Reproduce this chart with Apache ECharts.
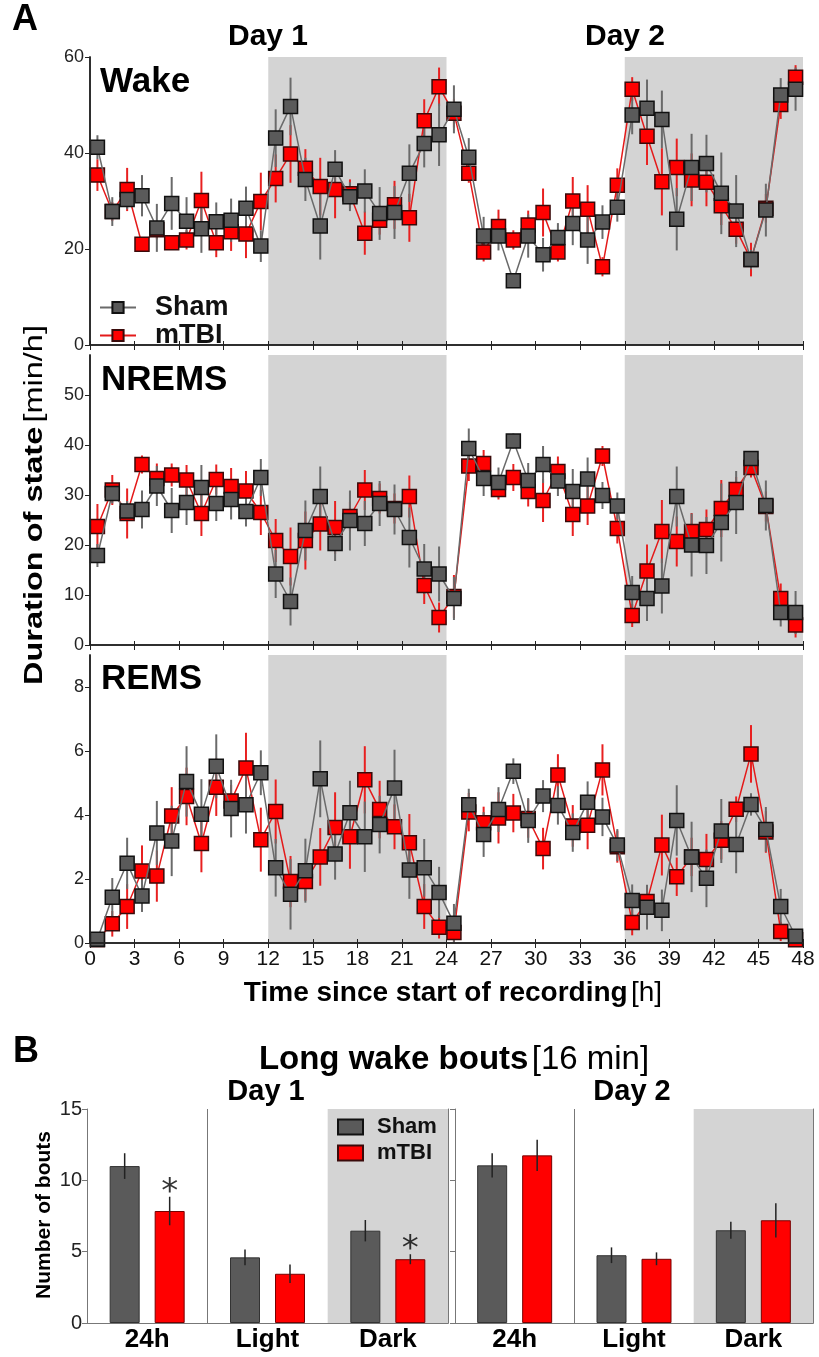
<!DOCTYPE html>
<html>
<head>
<meta charset="utf-8">
<script src="https://cdn.jsdelivr.net/npm/echarts@6/dist/echarts.min.js"></script>
<style>html,body{margin:0;background:#fff}#main{width:819px;height:1357px}</style>
</head>
<body>
<div id="main"></div>
<script>
// ---- panel A data (hour midpoints, mean and SEM per hour) ----
var hours = [0.5,1.5,2.5,3.5,4.5,5.5,6.5,7.5,8.5,9.5,10.5,11.5,12.5,13.5,14.5,15.5,16.5,17.5,18.5,19.5,20.5,21.5,22.5,23.5,
             24.5,25.5,26.5,27.5,28.5,29.5,30.5,31.5,32.5,33.5,34.5,35.5,36.5,37.5,38.5,39.5,40.5,41.5,42.5,43.5,44.5,45.5,46.5,47.5];

var wakeSham = [41.2,27.8,30.3,31.1,24.4,29.5,25.8,24.2,25.7,26.0,28.5,20.6,43.1,49.7,34.5,24.8,36.6,30.9,32.1,27.4,27.6,35.8,42.0,43.8,
                49.1,39.1,22.7,22.7,13.4,22.7,18.8,22.4,25.3,21.9,25.6,28.7,47.9,49.3,47.0,26.2,37.0,37.8,31.6,27.9,17.8,28.1,52.1,53.3];
var wakeShamErr = [2.5,3,2,4.3,5,5.5,5,5,4,4.5,4.5,3.3,6,6,4.5,7,4,3,4.5,5.5,5.5,6,5,6.5,
                   5,4,4,3,1,4.5,3.5,3,4.5,5,3.5,3,4,6,6,6.5,7,6,8.5,7.5,2,5.5,3.5,4.5];
var wakeTbi = [35.4,27.8,32.4,21.0,24.0,21.3,21.9,30.1,21.3,23.6,23.1,29.9,34.7,39.8,36.8,33.0,32.4,31.5,23.3,26.0,29.2,26.5,46.7,53.8,
               48.3,35.8,19.4,24.7,21.9,25.0,27.6,19.4,30.0,28.3,16.3,33.3,53.3,43.5,34.0,37.0,34.4,33.9,29.0,24.1,17.8,28.5,50.1,55.8];
var wakeTbiErr = [3.3,2,4.5,1,2,1,2,6,3,4,5,6,5,6,4,6,6,3,4.5,3,5,5,4.5,4,
                  3,2,2,3.5,2,3,5,2,5,5,2,3.5,2.5,6,7,6,5.5,5,4,3,3.5,3,3,2.5];

var nremSham = [17.9,30.3,26.8,27.1,31.8,26.9,28.5,31.5,28.3,29.1,26.7,33.5,14.2,8.7,22.9,29.7,20.3,24.9,24.3,28.3,27.1,21.5,15.2,14.2,
                9.3,39.3,33.3,32.5,40.8,32.9,36.1,32.8,30.7,33.2,29.9,27.8,10.5,9.3,11.8,29.7,20.0,19.9,24.5,28.5,37.3,27.9,6.5,6.5];
var nremShamErr = [2.3,2,2,3.8,4,4.5,4.5,4.5,3.5,4,3,3.7,4.8,4.8,6,6,3.5,6,4.5,4.5,5,6,5,5.5,
                   4.3,4,3.5,3,1.5,3.5,3.7,3,4.5,4.3,2.7,2.7,3.3,4.5,5.5,6,6.3,5.7,7.8,6.3,1.3,5,2.8,4.3];
var nremTbi = [23.7,31.0,26.3,36.1,33.3,34.0,33.0,26.3,33.1,31.7,30.8,26.5,20.9,17.7,20.9,24.2,23.5,25.7,31.0,29.3,27.3,29.7,11.9,5.5,
               9.7,35.8,36.3,31.1,33.5,30.7,28.9,34.7,26.1,27.8,37.8,23.3,5.9,14.8,22.7,20.7,22.7,23.1,27.3,31.1,35.5,27.7,9.3,4.0];
var nremTbiErr = [4.5,3,5,1.8,3,2.3,3,4.5,3,3.7,4,4.5,4.3,5.8,5.8,5.3,5.3,3,4,3,3,4.2,3.7,3,
                  4.3,3,2.7,2,2.7,3,4.3,3,4.3,3.8,2,3,2.3,5.3,6.3,5,3.7,4,5.7,2.5,2,3,3,2.5];

var remSham = [0.12,1.43,2.49,1.47,3.44,3.19,5.05,4.02,5.52,4.20,4.32,5.32,2.35,1.52,2.26,5.13,2.78,4.07,3.32,3.70,4.84,2.28,2.35,1.58,
               0.62,4.32,3.39,4.17,5.37,3.83,4.59,4.30,3.45,4.40,3.94,3.06,1.33,1.12,1.02,3.83,2.69,2.02,3.50,3.08,4.33,3.55,1.14,0.21];
var remShamErr = [0.1,0.6,0.8,0.5,1.0,1.1,1.1,1.1,1.0,0.9,0.9,0.7,0.9,1.1,1.0,1.2,0.8,1.0,1.1,0.9,1.2,0.9,0.9,0.8,
                  0.6,0.5,0.7,0.7,0.4,0.7,0.5,0.6,0.6,0.65,0.6,0.5,0.5,0.7,0.65,1.1,1.1,0.9,1.0,0.9,0.35,0.7,0.55,0.2];
var remTbi = [0.1,0.60,1.14,2.25,2.09,3.97,4.58,3.11,4.87,4.44,5.47,3.23,4.11,1.92,1.92,2.69,3.61,3.32,5.10,4.17,3.63,3.13,1.14,0.49,
              0.33,4.09,3.76,3.91,4.06,3.89,2.95,5.25,3.66,3.68,5.41,3.01,0.64,1.30,3.06,2.07,2.69,2.61,3.21,4.18,5.91,3.47,0.36,0.1];
var remTbiErr = [0.05,0.4,0.7,0.8,0.8,0.9,0.9,0.9,0.9,0.5,1.1,1.0,1.0,0.8,0.6,0.9,1.1,1.0,1.05,0.9,0.7,0.9,0.7,0.35,
                 0.3,0.6,0.5,0.8,0.6,0.6,0.65,0.65,0.65,0.75,0.8,0.5,0.4,0.5,0.95,0.6,0.6,0.8,0.6,0.4,0.9,0.65,0.3,0.1];

var darkPhases = [[12, 24], [36, 48]];

// ---- panel B data ----
var cats = ['24h', 'Light', 'Dark'];
var d1Sham = [11.0, 4.6, 6.47], d1ShamErr = [0.9, 0.55, 0.75];
var d1Tbi = [7.85, 3.45, 4.47], d1TbiErr = [1.0, 0.65, 0.35];
var d2Sham = [11.05, 4.75, 6.5], d2ShamErr = [0.85, 0.55, 0.6];
var d2Tbi = [11.75, 4.5, 7.2], d2TbiErr = [1.1, 0.45, 1.2];
var d1Sig = ['*', '', '*'];
var d2Sig = ['', '', ''];

var F = 'Liberation Sans, Arial, sans-serif';
var FN = 'Liberation Sans Narrow, Arial Narrow, sans-serif';
var GREY = '#5a5a5a', RED = '#ff0000';
var NONE = 'rgba(0,0,0,0)';

var chart = echarts.init(document.getElementById('main'));

function pts(vals) { return vals.map(function (v, i) { return [hours[i], v]; }); }
function errPts(vals, errs) { return vals.map(function (v, i) { return [hours[i], v, errs[i]]; }); }

function errBar(color, width, offset) {
    return function (params, api) {
        var x = api.value(0), v = api.value(1), e = api.value(2);
        var lo = api.coord([x, Math.max(0, v - e)]);
        var hi = api.coord([x, v + e]);
        return {
            type: 'line',
            shape: { x1: lo[0] + offset, y1: lo[1], x2: hi[0] + offset, y2: hi[1] },
            style: { stroke: color, lineWidth: width }
        };
    };
}

var panels = [
    { sham: wakeSham, shamErr: wakeShamErr, tbi: wakeTbi, tbiErr: wakeTbiErr, max: 60, interval: 20 },
    { sham: nremSham, shamErr: nremShamErr, tbi: nremTbi, tbiErr: nremTbiErr, max: 58, interval: 10 },
    { sham: remSham, shamErr: remShamErr, tbi: remTbi, tbiErr: remTbiErr, max: 9, interval: 2 }
];

var grid = [
    { left: 90, right: 16, top: 57, height: 288 },
    { left: 90, right: 16, top: 355, height: 290 },
    { left: 90, right: 16, top: 655, height: 288 },
    { left: 87, top: 1109, width: 361, height: 214 },
    { left: 455, top: 1109, width: 358, height: 214 }
];

var xAxis = [], yAxis = [], series = [];
var frameA = { color: '#222', width: 1.5 };
var frameB = { color: '#777', width: 1 };

panels.forEach(function (p, k) {
    xAxis.push({
        type: 'value', gridIndex: k, min: 0, max: 48, interval: 3, z: 5,
        axisLine: { lineStyle: frameA },
        axisTick: { show: true, length: 5, lineStyle: { color: '#222' } },
        axisLabel: { show: k === 2, fontFamily: FN, fontSize: 21, color: '#111', margin: 6 },
        splitLine: { show: false }
    });
    yAxis.push({
        type: 'value', gridIndex: k, min: 0, max: p.max, interval: p.interval, z: 5,
        axisLine: { show: true, lineStyle: frameA },
        axisTick: { show: true, length: 5, lineStyle: { color: '#222' } },
        axisLabel: { fontFamily: F, fontSize: 18, color: '#222', margin: 6, showMaxLabel: k === 0 },
        splitLine: { show: false }
    });
});
panels.forEach(function (p, k) {
    xAxis.push({
        type: 'value', gridIndex: k, position: 'top', min: 0, max: 48, interval: 3, z: 5,
        axisLine: { lineStyle: frameA },
        axisTick: { show: true, length: 4, lineStyle: { color: '#222' } },
        axisLabel: { show: false }, splitLine: { show: false }
    });
    yAxis.push({
        type: 'value', gridIndex: k, position: 'right', min: 0, max: p.max, z: 5,
        axisLine: { show: true, lineStyle: frameA },
        axisTick: { show: false }, axisLabel: { show: false }, splitLine: { show: false }
    });
});

panels.forEach(function (p, k) {
    series.push({
        type: 'custom', xAxisIndex: k, yAxisIndex: k, z: 2,
        renderItem: errBar('#e82020', 2, 0), data: errPts(p.tbi, p.tbiErr),
        markArea: {
            silent: true, itemStyle: { color: '#d4d4d4' },
            data: darkPhases.map(function (d) { return [{ xAxis: d[0] }, { xAxis: d[1] }]; })
        }
    });
    series.push({
        type: 'custom', xAxisIndex: k, yAxisIndex: k, z: 2,
        renderItem: errBar('#6a6a6a', 2, 0), data: errPts(p.sham, p.shamErr)
    });
    series.push({
        name: 'mTBI', type: 'line', xAxisIndex: k, yAxisIndex: k, z: 3,
        data: pts(p.tbi), symbol: 'rect', symbolSize: 14,
        lineStyle: { color: '#e41a1a', width: 1.5 },
        itemStyle: { color: RED, borderColor: '#3a0a0a', borderWidth: 1.5 }
    });
    series.push({
        name: 'Sham', type: 'line', xAxisIndex: k, yAxisIndex: k, z: 4,
        data: pts(p.sham), symbol: 'rect', symbolSize: 14,
        lineStyle: { color: '#6a6a6a', width: 1.5 },
        itemStyle: { color: GREY, borderColor: '#111', borderWidth: 1.5 }
    });
});

// ---- panel B ----
var days = [
    { sham: d1Sham, shamErr: d1ShamErr, tbi: d1Tbi, tbiErr: d1TbiErr, sig: d1Sig },
    { sham: d2Sham, shamErr: d2ShamErr, tbi: d2Tbi, tbiErr: d2TbiErr, sig: d2Sig }
];
var barW = 30, barGapPx = 15, barOff = (barW + barGapPx) / 2;

days.forEach(function (d, j) {
    var g = 3 + j;
    xAxis.push({
        type: 'category', gridIndex: g, data: cats, z: 0,
        axisLine: { lineStyle: frameB }, axisTick: { show: false },
        axisLabel: { fontFamily: F, fontWeight: 'bold', fontSize: 26, color: '#000', margin: 4 },
        // only the boundary between 24h and Light is drawn
        splitLine: { show: true, interval: 0, lineStyle: { color: [NONE, '#777', NONE, NONE], width: 1 } },
        splitArea: { show: true, interval: 0, areaStyle: { color: [NONE, NONE, '#d4d4d4'] } }
    });
    yAxis.push({
        type: 'value', gridIndex: g, min: 0, max: 15, interval: 5, z: 5,
        axisLine: { show: true, lineStyle: frameB },
        axisTick: { show: true, length: 5, lineStyle: { color: '#777' } },
        axisLabel: { show: j === 0, fontFamily: F, fontSize: 20, color: '#222', margin: 5 },
        splitLine: { show: false }
    });
});
days.forEach(function (d, j) {
    var g = 3 + j;
    xAxis.push({
        type: 'category', gridIndex: g, position: 'top', data: cats, z: 5,
        axisLine: { lineStyle: frameB }, axisTick: { show: false }, axisLabel: { show: false },
        splitLine: { show: false }, splitArea: { show: false }
    });
    yAxis.push({
        type: 'value', gridIndex: g, position: 'right', min: 0, max: 15, z: 5,
        axisLine: { show: true, lineStyle: frameB }, axisTick: { show: false },
        axisLabel: { show: false }, splitLine: { show: false }
    });
});
days.forEach(function (d, j) {
    var xi = 6 + j, yi = 6 + j;
    series.push({
        name: 'Sham', type: 'bar', xAxisIndex: xi, yAxisIndex: yi, data: d.sham,
        barWidth: barW, barGap: '50%', z: 2,
        itemStyle: { color: GREY, borderColor: '#333', borderWidth: 1 }
    });
    series.push({
        name: 'mTBI', type: 'bar', xAxisIndex: xi, yAxisIndex: yi, data: d.tbi,
        barWidth: barW, barGap: '50%', z: 2,
        itemStyle: { color: RED, borderColor: '#700', borderWidth: 1 }
    });
    series.push({
        type: 'custom', xAxisIndex: xi, yAxisIndex: yi, z: 5,
        renderItem: errBar('#222', 1.5, -barOff),
        data: d.sham.map(function (v, i) { return [i, v, d.shamErr[i]]; })
    });
    series.push({
        type: 'custom', xAxisIndex: xi, yAxisIndex: yi, z: 5,
        renderItem: errBar('#222', 1.5, barOff),
        data: d.tbi.map(function (v, i) { return [i, v, d.tbiErr[i]]; })
    });
    var sigData = [];
    d.sig.forEach(function (s, i) {
        if (s) sigData.push({ value: [i, d.tbi[i] + d.tbiErr[i]], label: { formatter: s } });
    });
    series.push({
        type: 'scatter', xAxisIndex: xi, yAxisIndex: yi, z: 6, symbolSize: 1,
        itemStyle: { color: NONE }, data: sigData,
        label: { show: true, position: 'inside', offset: [barOff, -4], fontFamily: 'DejaVu Sans, sans-serif', fontSize: 34, color: '#000' }
    });
});

function txt(x, y, text, font, align, extra) {
    var o = { type: 'text', x: x, y: y, z: 20,
        style: { text: text, font: font, fill: '#000', align: align || 'center', verticalAlign: 'middle' } };
    if (extra) Object.keys(extra).forEach(function (k) { o[k] = extra[k]; });
    return o;
}
function richTxt(x, y, boldPart, normPart, family, size, extra) {
    var o = { type: 'text', x: x, y: y, z: 20,
        style: { text: '{b|' + boldPart + '} {n|' + normPart + '}', align: 'center', verticalAlign: 'middle',
            rich: { b: { fontFamily: family, fontWeight: 'bold', fontSize: size, fill: '#000', color: '#000' },
                    n: { fontFamily: family, fontSize: size, fill: '#000', color: '#000' } } } };
    if (extra) Object.keys(extra).forEach(function (k) { o[k] = extra[k]; });
    return o;
}

var graphic = [
    txt(25, 20, 'A', 'bold 36px ' + F),
    txt(268, 37, 'Day 1', 'bold 30px ' + F),
    txt(625, 37, 'Day 2', 'bold 30px ' + F),
    txt(100, 82, 'Wake', 'bold 35px ' + F, 'left'),
    txt(101, 380, 'NREMS', 'bold 35px ' + F, 'left'),
    txt(101, 679, 'REMS', 'bold 35px ' + F, 'left'),
    richTxt(35, 505, 'Duration of state', '[min/h]', FN, 26, { rotation: Math.PI / 2, scaleX: 1.25 }),
    richTxt(453, 993, 'Time since start of recording', '[h]', FN, 28),
    txt(26, 1052, 'B', 'bold 36px ' + F),
    richTxt(454, 1060, 'Long wake bouts', '[16 min]', F, 33),
    txt(266, 1092, 'Day 1', 'bold 29px ' + F),
    txt(632, 1092, 'Day 2', 'bold 29px ' + F),
    txt(44, 1215, 'Number of bouts', 'bold 21px ' + F, 'center', { rotation: Math.PI / 2 })
];

chart.setOption({
    animation: false,
    backgroundColor: '#fff',
    grid: grid,
    xAxis: xAxis,
    yAxis: yAxis,
    legend: [{
        data: ['Sham', 'mTBI'], orient: 'vertical', left: 99, top: 294, z: 10,
        itemWidth: 36, itemHeight: 14, itemGap: 1, selectedMode: false, padding: 0,
        textStyle: { fontFamily: F, fontWeight: 'bold', fontSize: 27, lineHeight: 22, color: '#111', padding: [0, 0, 0, 14] }
    }, {
        data: [{ name: 'Sham', icon: 'rect' }, { name: 'mTBI', icon: 'rect' }],
        orient: 'vertical', left: 337, top: 1116, z: 10, itemWidth: 25, itemHeight: 15, itemGap: 4,
        selectedMode: false, padding: 0,
        textStyle: { fontFamily: F, fontWeight: 'bold', fontSize: 22, lineHeight: 17, color: '#111', padding: [0, 0, 0, 9] }
    }],
    graphic: graphic,
    series: series
});
</script>
</body>
</html>
